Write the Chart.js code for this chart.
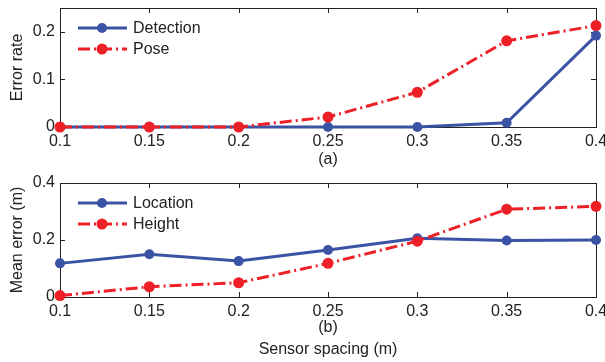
<!DOCTYPE html>
<html>
<head>
<meta charset="utf-8">
<script src="https://cdn.jsdelivr.net/npm/chart.js@4.4.0/dist/chart.umd.min.js"></script>
<style>
  body { margin: 0; background: #fff; }
  .box { position: absolute; left: 0; }
</style>
</head>
<body>
<div class="box" style="top:0"><canvas id="top" width="605" height="172"></canvas></div>
<div class="box" style="top:175px"><canvas id="bottom" width="605" height="187"></canvas></div>
<script>
const spacing = [0.1, 0.15, 0.2, 0.25, 0.3, 0.35, 0.4];
const detectionRate = [0, 0, 0, 0, 0, 0.009, 0.192];
const poseRate = [0, 0, 0, 0.021, 0.073, 0.181, 0.213];
const locationErr = [0.118, 0.150, 0.126, 0.165, 0.206, 0.198, 0.200];
const heightErr = [0.005, 0.036, 0.050, 0.118, 0.196, 0.308, 0.318];

const blue = '#3a53a4';
const red = '#ed2027';
const font = "'Liberation Sans', Arial, sans-serif";
Chart.defaults.font.family = font;
Chart.defaults.font.size = 16;
Chart.defaults.color = '#222';

function pts(ys) {
  return spacing.map((x, i) => ({ x: x, y: ys[i] }));
}

function fmt(v) {
  return String(Number(v.toFixed(2)));
}

// box round the plot with inward ticks, like matlab
const frame = {
  id: 'frame',
  beforeDatasetsDraw(chart) {
    const a = chart.chartArea, ctx = chart.ctx;
    const xs = chart.scales.x, ys = chart.scales.y;
    ctx.save();
    ctx.strokeStyle = '#222';
    ctx.lineWidth = 1;
    ctx.strokeRect(a.left + 0.5, a.top + 0.5, a.right - a.left, a.bottom - a.top);
    ctx.beginPath();
    xs.ticks.forEach(t => {
      const px = Math.round(xs.getPixelForValue(t.value)) + 0.5;
      ctx.moveTo(px, a.bottom); ctx.lineTo(px, a.bottom - 5);
      ctx.moveTo(px, a.top); ctx.lineTo(px, a.top + 5);
    });
    ys.ticks.forEach(t => {
      const py = Math.round(ys.getPixelForValue(t.value)) + 0.5;
      ctx.moveTo(a.left, py); ctx.lineTo(a.left + 5, py);
      ctx.moveTo(a.right, py); ctx.lineTo(a.right - 5, py);
    });
    ctx.stroke();
    ctx.restore();
  }
};

const legendBox = {
  id: 'legendBox',
  afterDraw(chart) {
    const a = chart.chartArea, ctx = chart.ctx;
    const x0 = a.left + 18;
    let y = a.top + 20;
    ctx.save();
    chart.data.datasets.forEach(ds => {
      ctx.strokeStyle = ds.borderColor;
      ctx.lineWidth = ds.borderWidth;
      ctx.setLineDash(ds.borderDash || []);
      ctx.beginPath();
      ctx.moveTo(x0, y); ctx.lineTo(x0 + 49, y);
      ctx.stroke();
      ctx.setLineDash([]);
      ctx.fillStyle = ds.pointBackgroundColor;
      ctx.beginPath();
      ctx.arc(x0 + 24, y, ds.pointRadius, 0, Math.PI * 2);
      ctx.fill();
      ctx.fillStyle = '#222';
      ctx.font = '16px ' + font;
      ctx.textBaseline = 'middle';
      ctx.fillText(ds.label, x0 + 55, y + 1);
      y += 21;
    });
    ctx.restore();
  }
};

function line(label, ys, color, dashed) {
  return {
    label: label,
    data: pts(ys),
    borderColor: color,
    backgroundColor: color,
    pointBackgroundColor: color,
    pointBorderColor: color,
    borderWidth: 3,
    borderDash: dashed ? [12, 4, 2, 4] : [],
    pointRadius: dashed ? 5.5 : 5,
    pointBorderWidth: 0,
    tension: 0,
    clip: false,
    order: dashed ? 0 : 1
  };
}

function makeChart(id, datasets, yOpts, xTitle, yTitle, xHeight) {
  return new Chart(document.getElementById(id), {
    type: 'line',
    data: { datasets: datasets },
    options: {
      responsive: false,
      animation: false,
      layout: { padding: { top: 8, right: 9, left: 0, bottom: 0 } },
      plugins: { legend: { display: false }, tooltip: { enabled: false } },
      scales: {
        x: {
          type: 'linear',
          min: 0.1, max: 0.4,
          grid: { display: false, drawTicks: false },
          border: { display: false },
          ticks: { stepSize: 0.05, autoSkip: false, maxRotation: 0, padding: 5, color: '#222',
                   callback: v => fmt(v) },
          title: { display: true, text: xTitle, color: '#222', font: { size: 16, lineHeight: 1.375 },
                   padding: { top: 0, bottom: 1 } },
          afterFit: s => { s.height = xHeight; s.paddingLeft = 0; s.paddingRight = 0; }
        },
        y: Object.assign({
          grid: { display: false, drawTicks: false },
          border: { display: false },
          title: { display: true, text: yTitle, color: '#222', font: { size: 16 },
                   padding: { top: 8, bottom: 0 } },
          afterFit: s => { s.width = 60; s.paddingTop = 0; s.paddingBottom = 0; }
        }, yOpts)
      }
    },
    plugins: [frame, legendBox]
  });
}

makeChart('top',
  [line('Detection', detectionRate, blue, false), line('Pose', poseRate, red, true)],
  { min: 0, max: 0.25, ticks: { stepSize: 0.1, includeBounds: false, padding: 5, color: '#222', callback: v => fmt(v) } },
  '(a)', 'Error rate', 45);

makeChart('bottom',
  [line('Location', locationErr, blue, false), line('Height', heightErr, red, true)],
  { min: 0, max: 0.4, ticks: { stepSize: 0.2, padding: 5, color: '#222', callback: v => fmt(v) } },
  ['(b)', 'Sensor spacing (m)'], 'Mean error (m)', 65);
</script>
</body>
</html>
